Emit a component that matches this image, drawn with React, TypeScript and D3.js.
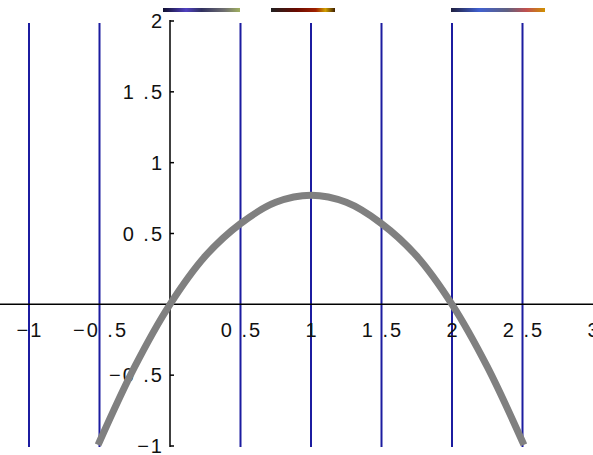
import React from "react";
import * as d3 from "d3";

// Sampled curve values
const curveX = [-0.5, -0.25, 0, 0.25, 0.5, 0.75, 1, 1.25, 1.5, 1.75, 2, 2.25, 2.5];
const curveY = [-0.97, -0.44, 0, 0.34, 0.57, 0.72, 0.77, 0.72, 0.57, 0.34, 0, -0.44, -0.97];

// Vertical reference lines
const guideX = [-1, -0.5, 0.5, 1, 1.5, 2, 2.5];

// Axis ticks and their labels
const xTicks = [-1, -0.5, 0.5, 1, 1.5, 2, 2.5, 3];
const xTickLabels = ["−1", "−0 .5", "0 .5", "1", "1 .5", "2", "2 .5", "3"];
const yTicks = [2, 1.5, 1, 0.5, -0.5, -1];
const yTickLabels = ["2", "1 .5", "1", "0 .5", "−0 .5", "−1"];

const W = 593;
const H = 455;

export default function App() {
  const x = d3.scaleLinear().domain([-1, 3]).range([29, 593]);
  const y = d3.scaleLinear().domain([-1, 2]).range([446, 21]);

  const pts = curveX.map((v, i) => [v, curveY[i]] as [number, number]);
  const line = d3
    .line<[number, number]>()
    .x((d) => x(d[0]))
    .y((d) => y(d[1]))
    .curve(d3.curveCatmullRom.alpha(0.5));

  const font = "'Liberation Sans', Arial, sans-serif";

  return (
    <svg
      width={W}
      height={H}
      style={{ position: "absolute", left: 0, top: 0, background: "#fff" }}
    >
      <defs>
        <linearGradient id="strip1" x1="0" x2="1">
          <stop offset="0" stopColor="#101030" />
          <stop offset="0.3" stopColor="#5040c0" />
          <stop offset="0.5" stopColor="#303060" />
          <stop offset="0.8" stopColor="#707070" />
          <stop offset="1" stopColor="#a0b060" />
        </linearGradient>
        <linearGradient id="strip2" x1="0" x2="1">
          <stop offset="0" stopColor="#202020" />
          <stop offset="0.4" stopColor="#6a0a00" />
          <stop offset="0.7" stopColor="#a02000" />
          <stop offset="0.85" stopColor="#d0a000" />
          <stop offset="1" stopColor="#402000" />
        </linearGradient>
        <linearGradient id="strip3" x1="0" x2="1">
          <stop offset="0" stopColor="#202040" />
          <stop offset="0.3" stopColor="#4060d0" />
          <stop offset="0.6" stopColor="#606080" />
          <stop offset="0.8" stopColor="#c05050" />
          <stop offset="1" stopColor="#d09000" />
        </linearGradient>
      </defs>

      {/* compressed header strips */}
      <rect x={163} y={8} width={77} height={4} fill="url(#strip1)" />
      <rect x={271} y={8} width={64} height={4} fill="url(#strip2)" />
      <rect x={451} y={8} width={94} height={4} fill="url(#strip3)" />

      {/* vertical guides */}
      {guideX.map((g) => (
        <line
          key={g}
          x1={x(g)}
          x2={x(g)}
          y1={23}
          y2={447}
          stroke="#1c1ca0"
          strokeWidth={2}
        />
      ))}

      {/* x axis */}
      <line x1={0} x2={W} y1={y(0)} y2={y(0)} stroke="#000" strokeWidth={1.5} />
      {/* y axis */}
      <line x1={x(0)} x2={x(0)} y1={y(2) - 1} y2={y(-1) + 1} stroke="#000" strokeWidth={1.5} />
      {yTicks.map((t) => (
        <line key={t} x1={x(0)} x2={x(0) + 4} y1={y(t)} y2={y(t)} stroke="#000" strokeWidth={1.5} />
      ))}

      {/* tick labels */}
      {xTicks.map((t, i) => (
        <text
          key={t}
          x={x(t) + 1}
          y={y(0) + 33}
          textAnchor="middle"
          fontFamily={font}
          fontSize={20}
          letterSpacing={2}
          fill="#111"
        >
          {xTickLabels[i]}
        </text>
      ))}
      {yTicks.map((t, i) => (
        <text
          key={t}
          x={x(0) - 6}
          y={y(t) + 7}
          textAnchor="end"
          fontFamily={font}
          fontSize={20}
          letterSpacing={2}
          fill="#111"
        >
          {yTickLabels[i]}
        </text>
      ))}

      {/* curve */}
      <path
        d={line(pts) || ""}
        fill="none"
        stroke="#808080"
        strokeWidth={7}
        strokeLinecap="square"
      />
    </svg>
  );
}
